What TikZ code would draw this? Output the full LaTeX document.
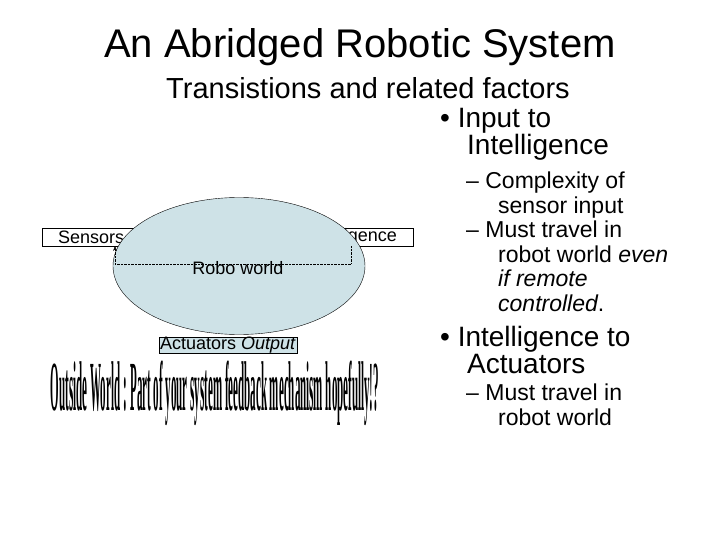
\documentclass[tikz,border=0pt]{standalone}
\usepackage{fontspec}
\setmainfont{Liberation Sans}
\newfontfamily\artfont{Liberation Serif}
\usetikzlibrary{shapes.geometric,arrows.meta}
\definecolor{ell}{RGB}{206,226,231}
\tikzset{lbl/.style={draw,thin,inner sep=1pt,font=\fontsize{18}{18}\selectfont},
 bul/.style={anchor=north west,align=left,inner sep=0pt,font=\fontsize{28}{27}\selectfont},
 sub/.style={anchor=north west,align=left,inner sep=0pt,font=\fontsize{23}{24.5}\selectfont}}
\begin{document}
\begin{tikzpicture}[x=1pt,y=-1pt]
\useasboundingbox (0,0) rectangle (720,540);
\node[font=\fontsize{40}{44}\selectfont] (t) at (360,47) {An Abridged Robotic System};
\node[font=\fontsize{29}{32}\selectfont] (st) at (368,88) {Transistions and related factors};
\node[draw,thin,minimum width=371pt,minimum height=18pt] (box) at (227.5,237) {};
\node[anchor=west,font=\fontsize{18}{18}\selectfont,inner sep=0pt] (sen) at (58,237) {Sensors};
\node[anchor=east,font=\fontsize{18}{18}\selectfont,inner sep=0pt] (int) at (397,237) {Intelligence};
\node[ellipse,draw,thin,fill=ell,minimum width=252pt,minimum height=137pt,inner sep=0pt] (e) at (239,266) {};
\node[font=\fontsize{18}{18}\selectfont] (rw) at (238,268) {Robo world};
\coordinate (c1) at (351,246);
\coordinate (c2) at (351,264);
\coordinate (c3) at (115,264);
\coordinate (c4) at (115,246);
\draw[densely dotted,-{Stealth[length=5pt]}] (c1) -- (c2) -- (c3) -- (c4);
\node[lbl,fill=ell,inner ysep=0pt] (act) at (228,345) {Actuators \textit{Output}};
\node[font=\artfont\bfseries\fontsize{22}{24}\selectfont,xscale=0.5,yscale=3.2] (ow) at (215,393) {Outside World : Part of your system feedback mechanism hopefully!?};
\node[bul] (b1) at (440,108) {\textbullet\ Input to\\\hspace{27pt}Intelligence};
\node[sub] (s1) at (466,172) {-- Complexity of\\\hspace{32pt}sensor input\\-- Must travel in\\\hspace{32pt}robot world \textit{even}\\\hspace{32pt}\textit{if remote}\\\hspace{32pt}\textit{controlled}.};
\node[bul] (b2) at (440,326) {\textbullet\ Intelligence to\\\hspace{27pt}Actuators};
\node[sub] (s2) at (466,384) {-- Must travel in\\\hspace{32pt}robot world};
\end{tikzpicture}
\end{document}
